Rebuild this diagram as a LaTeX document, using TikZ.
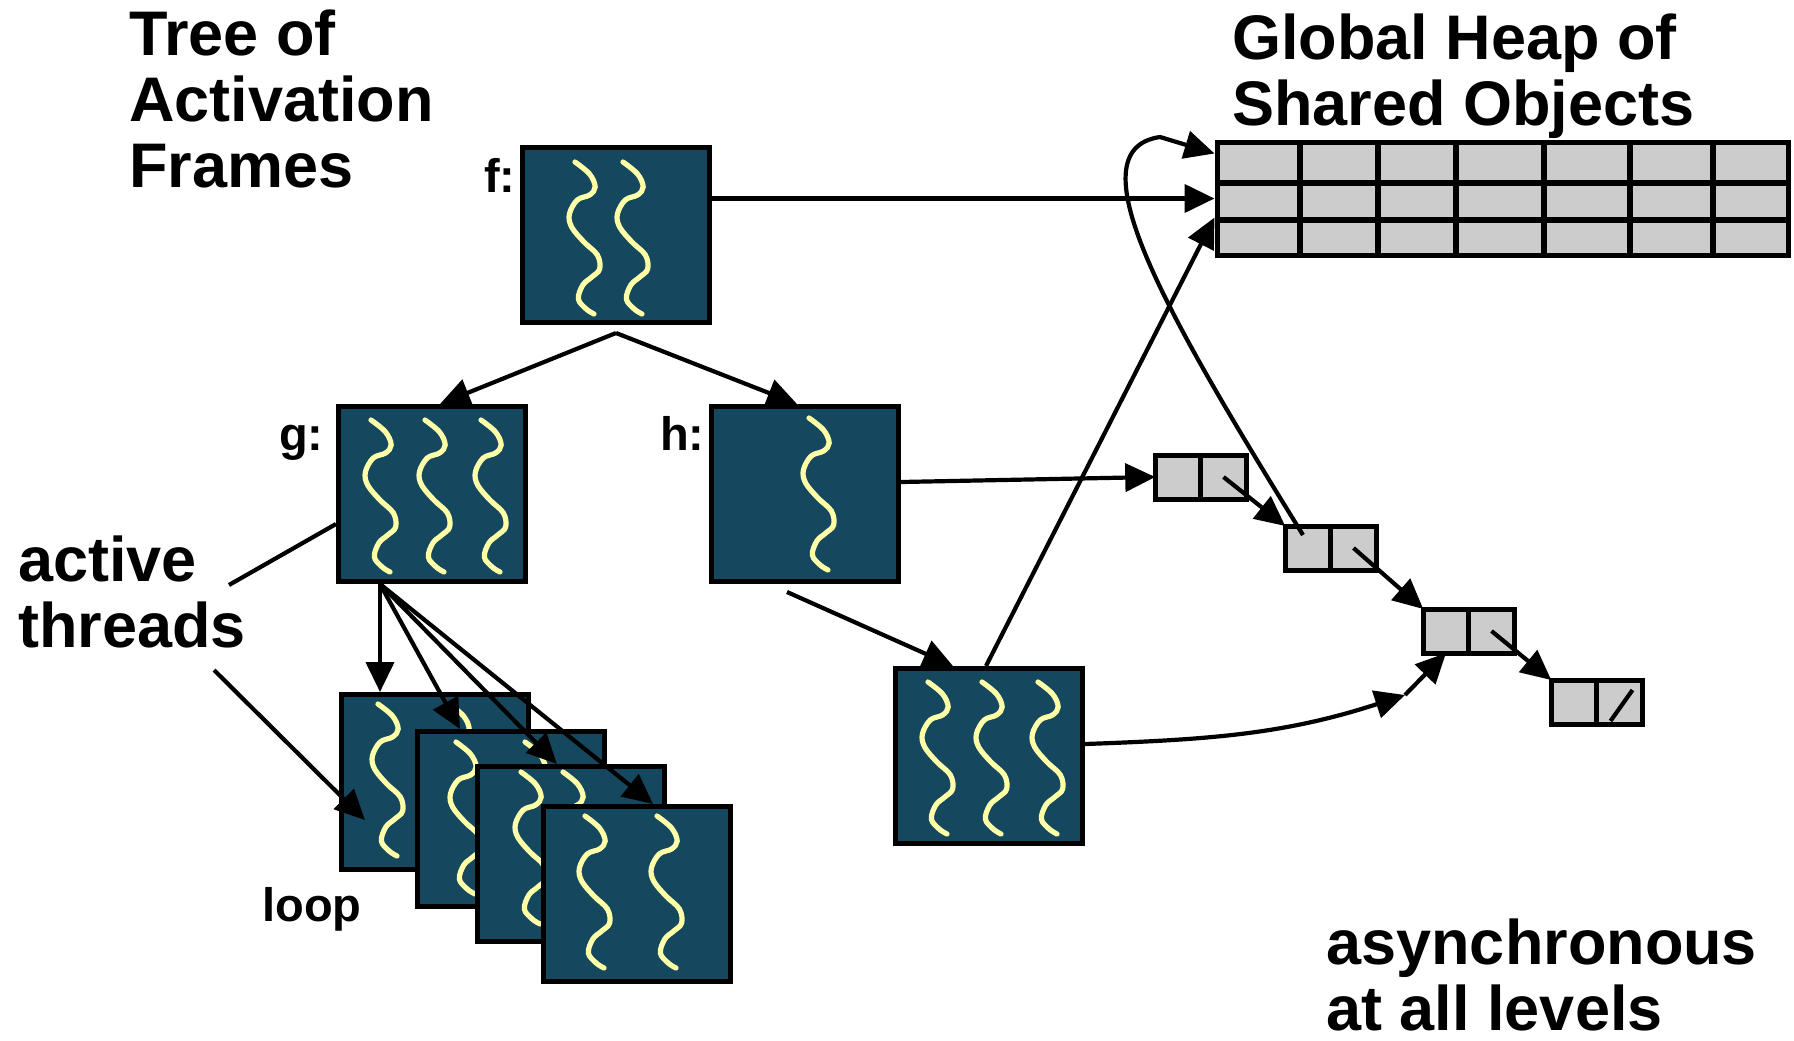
\documentclass[tikz,border=0pt]{standalone}
\usepackage{fontspec}
\setmainfont{Liberation Sans}
\usepackage{tikz}
\usetikzlibrary{arrows.meta,positioning}

\definecolor{framebg}{RGB}{21,72,95}
\definecolor{threadcol}{RGB}{255,255,168}
\definecolor{cellgray}{RGB}{204,204,204}

\tikzset{
  thread/.pic={
    \draw[threadcol, line width=2.6pt, line cap=round, xscale=1.12]
      plot[smooth, tension=0.6] coordinates {(0,0) (13,12) (18,25) (13,33) (2,38) (-5,52) (-3,65) (8,80) (20,93) (22,107) (15,115) (7,123) (3,137) (10,147) (17,152)};
  }
}

\begin{document}
\begin{tikzpicture}[
  x=0.5pt, y=-0.5pt,
  frame/.style={draw, line width=2.5pt, fill=framebg, minimum width=93.5pt, minimum height=87.5pt, inner sep=0pt},
  cell/.style={draw, line width=2.5pt, fill=cellgray, minimum width=22.75pt, minimum height=22pt, inner sep=0pt, outer sep=0pt},
  heapbox/.style={draw, line width=2.5pt, fill=cellgray, minimum width=285.5pt, minimum height=56.5pt, inner sep=0pt},
  title/.style={font=\fontsize{31.5}{33}\selectfont\bfseries, align=left, inner sep=0pt, anchor=base west},
  lbl/.style={font=\fontsize{23.5}{25}\selectfont\bfseries, inner sep=0pt},
  arrow/.style={-{Triangle[length=15pt,width=14pt]}, line width=2.1pt},
  link/.style={line width=2.1pt}
]
\useasboundingbox (0,0) rectangle (1794,1040);

% activation frames
\node[frame] (f) at (616,235) {};
\pic at ([shift={(55,17)}]f.north west) {thread};
\pic at ([shift={(103,17)}]f.north west) {thread};
\node[frame] (g) at (432,494) {};
\foreach \tx in {35,89,145}
  \pic at ([shift={(\tx,16)}]g.north west) {thread};
\node[frame] (h) at (805,494) {};
\pic at ([shift={(100,14)}]h.north west) {thread};
\node[frame] (k) at (989,756) {};
\foreach \tx in {35,89,145}
  \pic at ([shift={(\tx,16)}]k.north west) {thread};

% loop frames
\node[frame] (loop1) at (435,782) {};
\pic at ([shift={(39,12)}]loop1.north west) {thread};
\pic at ([shift={(110,12)}]loop1.north west) {thread};
\node[frame] (loop2) at (511,819) {};
\pic at ([shift={(41,13)}]loop2.north west) {thread};
\pic at ([shift={(110,13)}]loop2.north west) {thread};
\node[frame] (loop3) at (571,854) {};
\pic at ([shift={(46,8)}]loop3.north west) {thread};
\pic at ([shift={(88,8)}]loop3.north west) {thread};
\node[frame] (loop4) at (637,894) {};
\pic at ([shift={(44,12)}]loop4.north west) {thread};
\pic at ([shift={(116,12)}]loop4.north west) {thread};

% global heap
\node[heapbox] (heap) at (1502.5,198.5) {};
\foreach \gx in {1300,1378,1456,1544,1630,1713}
  \draw[line width=2.6pt] (\gx,142) -- (\gx,255);
\foreach \gy in {183,220}
  \draw[line width=2.6pt] (1217,\gy) -- (1788,\gy);

% list cells
\node[cell] (c1a) at (1178,477) {};
\node[cell, right=0pt of c1a] (c1b) {};
\node[cell] (c2a) at (1308,548) {};
\node[cell, right=0pt of c2a] (c2b) {};
\node[cell] (c3a) at (1446,631) {};
\node[cell, right=0pt of c3a] (c3b) {};
\node[cell] (c4a) at (1574,702) {};
\node[cell, right=0pt of c4a] (c4b) {};
\draw[link] ([shift={(-9,19)}]c4b.center) -- ([shift={(13,-12)}]c4b.center);

% labels (base = last line)
\node[title] (treetitle) at (129,187) {Tree of\\Activation\\Frames};
\node[title] (heaptitle) at (1232,125) {Global Heap of\\Shared Objects};
\node[title] (threadtxt) at (18,647) {active\\threads};
\node[title] (asynctxt) at (1326,1030) {asynchronous\\at all levels};
\node[lbl, anchor=base east] (flbl) at ([xshift=-2pt,yshift=-23.5pt]f.north west) {f:};
\node[lbl, anchor=base east] (glbl) at ([xshift=-6pt,yshift=-23pt]g.north west) {g:};
\node[lbl, anchor=base east] (hlbl) at ([xshift=-2pt,yshift=-23pt]h.north west) {h:};
\node[lbl, anchor=base west] (looplbl) at ([xshift=-38.5pt,yshift=-24.5pt]loop1.south west) {loop};

% tree edges
\draw[arrow] ([yshift=-4pt]f.south) -- ([xshift=4pt]g.north);
\draw[arrow] ([yshift=-4pt]f.south) -- ([xshift=-4pt]h.north);
\coordinate (gfork) at ([xshift=-26pt]g.south);
\draw[arrow] (gfork) -- (gfork |- loop1.north);
\draw[arrow] (gfork) -- ([xshift=-25.5pt]loop2.north);
\draw[arrow] (gfork) -- ([xshift=-7pt]loop3.north);
\draw[arrow] (gfork) -- ([xshift=8pt]loop4.north);
\draw[arrow] ([xshift=-9pt,yshift=-4pt]h.south) -- ([xshift=-18pt]k.north);

% pointers
\draw[arrow] (f.east |- heap.west) -- (heap.west);
\draw[arrow] ([xshift=-1.5pt]k.north) -- ([yshift=20pt]heap.south west);
\draw[arrow] ([yshift=6pt]h.east) -- (c1a.west);
\draw[arrow] (c1b.center) -- (c2a.north west);
\draw[arrow] (c2b.center) -- (c3a.north west);
\draw[arrow] (c3b.center) -- (c4a.north west);
\draw[arrow] ([shift={(-5,-13)}]c2a.center) .. controls (1170,320) and (1070,150) .. (1160,137) -- ([yshift=-7pt]heap.north west);
\coordinate (kmid) at (1405,695);
\draw[arrow] ([yshift=6pt]k.east) to[out=2,in=198] (kmid);
\draw[arrow] (kmid) -- (c3a.south);

% active threads pointers
\coordinate (actend) at (229,585);
\coordinate (thrend) at (214,670);
\draw[link] ([yshift=-15pt]g.west) -- (actend);
\draw[arrow] (thrend) -- ([shift={(26,38)}]loop1.west);
\end{tikzpicture}
\end{document}
